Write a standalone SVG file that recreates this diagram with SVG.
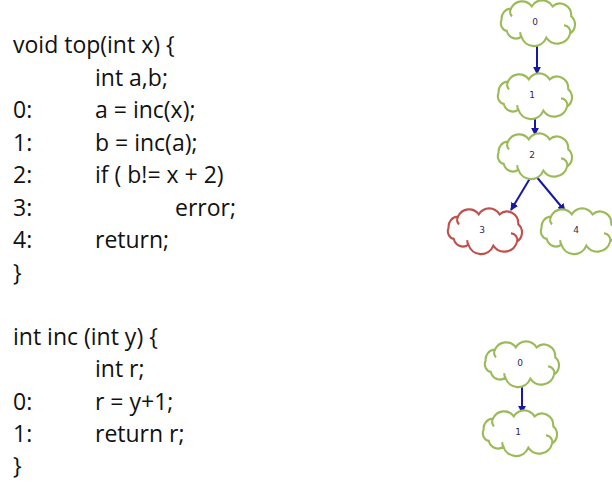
<svg xmlns="http://www.w3.org/2000/svg" width="612" height="484" viewBox="0 0 612 484">
  <style>
    .code { font-family: "Open Sans", Lato, "Liberation Sans", sans-serif; font-size: 23px; fill: #111; }
    .cloud-ok { fill: #fff; stroke: #9BBB59; stroke-width: 2; }
    .cloud-err { fill: #fff; stroke: #C0504D; stroke-width: 2; }
    .lbl { font-family: "DejaVu Sans", "Liberation Sans", sans-serif; font-size: 9px; fill: #2B2B55; text-anchor: middle; dominant-baseline: central; }
    .edge { stroke: #1818A8; stroke-width: 2; fill: none; marker-end: url(#arrow); }
    .bg { fill: #fff; }
  </style>
  <defs>
    <marker id="arrow" viewBox="0 0 10 10" refX="9" refY="5" markerWidth="4" markerHeight="4" orient="auto" markerUnits="strokeWidth">
      <path d="M0,0 L10,5 L0,10 Z" fill="#1818A8"/>
    </marker>
    <!-- cloud outline centred at 0,0, about 74 x 40 -->
    <g id="cloud">
      <path d="M-30,8 A7,7 0 0 1 -35,-2 A9,9 0 0 1 -26,-12 A12,12 0 0 1 -6,-14 A12,12 0 0 1 14,-14 A11,11 0 0 1 32,-5 A9,9 0 0 1 31,10 A13,13 0 0 1 8,14 A13,13 0 0 1 -16,13 A9,9 0 0 1 -30,8 Z"/>
      <path d="M25,3 A6,6 0 0 1 31,10" fill="none"/>
      <path d="M-26,-12 A6,6 0 0 0 -25,-5" fill="none"/>
      <path d="M-16,13 A6,6 0 0 1 -17,9" fill="none"/>
    </g>
  </defs>
  <rect class="bg" x="0" y="0" width="612" height="484"/>

  <!-- source listing: top() -->
  <g id="code-top" class="code">
    <text x="13" y="53">void top(int x) {</text>
    <text x="95" y="86">int a,b;</text>
    <text x="13" y="118">0:</text><text x="95" y="118">a = inc(x);</text>
    <text x="13" y="151">1:</text><text x="95" y="151">b = inc(a);</text>
    <text x="13" y="183">2:</text><text x="95" y="183">if ( b!= x + 2)</text>
    <text x="13" y="216">3:</text><text x="175" y="216">error;</text>
    <text x="13" y="248">4:</text><text x="95" y="248">return;</text>
    <text x="13" y="281">}</text>
  </g>

  <!-- source listing: inc() -->
  <g id="code-inc" class="code">
    <text x="13" y="345">int inc (int y) {</text>
    <text x="95" y="377">int r;</text>
    <text x="13" y="410">0:</text><text x="95" y="410">r = y+1;</text>
    <text x="13" y="442">1:</text><text x="95" y="442">return r;</text>
    <text x="13" y="474">}</text>
  </g>

  <!-- control-flow edges -->
  <g id="edges">
    <line class="edge" x1="537" y1="42" x2="537" y2="74"/>
    <line class="edge" x1="535" y1="116" x2="535" y2="135"/>
    <line class="edge" x1="532" y1="175" x2="511" y2="210"/>
    <line class="edge" x1="535" y1="175" x2="565" y2="211"/>
    <line class="edge" x1="522" y1="383" x2="522" y2="413"/>
  </g>

  <!-- top() graph nodes -->
  <g id="top-n0"><use href="#cloud" class="cloud-ok" transform="translate(538,22) scale(1.04,1.12)"/><text class="lbl" x="535" y="22">0</text></g>
  <g id="top-n1"><use href="#cloud" class="cloud-ok" transform="translate(535,95) scale(1.04,1.12)"/><text class="lbl" x="532" y="95">1</text></g>
  <g id="top-n2"><use href="#cloud" class="cloud-ok" transform="translate(535,155) scale(1.04,1.12)"/><text class="lbl" x="532" y="155">2</text></g>
  <g id="top-n3"><use href="#cloud" class="cloud-err" transform="translate(485,230) scale(1.04,1.12)"/><text class="lbl" x="482" y="230">3</text></g>
  <g id="top-n4"><use href="#cloud" class="cloud-ok" transform="translate(578,230) scale(1.04,1.12)"/><text class="lbl" x="576" y="230">4</text></g>

  <!-- inc() graph nodes -->
  <g id="inc-n0"><use href="#cloud" class="cloud-ok" transform="translate(522,363) scale(1.04,1.12)"/><text class="lbl" x="520" y="363">0</text></g>
  <g id="inc-n1"><use href="#cloud" class="cloud-ok" transform="translate(520,432) scale(1.04,1.12)"/><text class="lbl" x="518" y="432">1</text></g>
</svg>
